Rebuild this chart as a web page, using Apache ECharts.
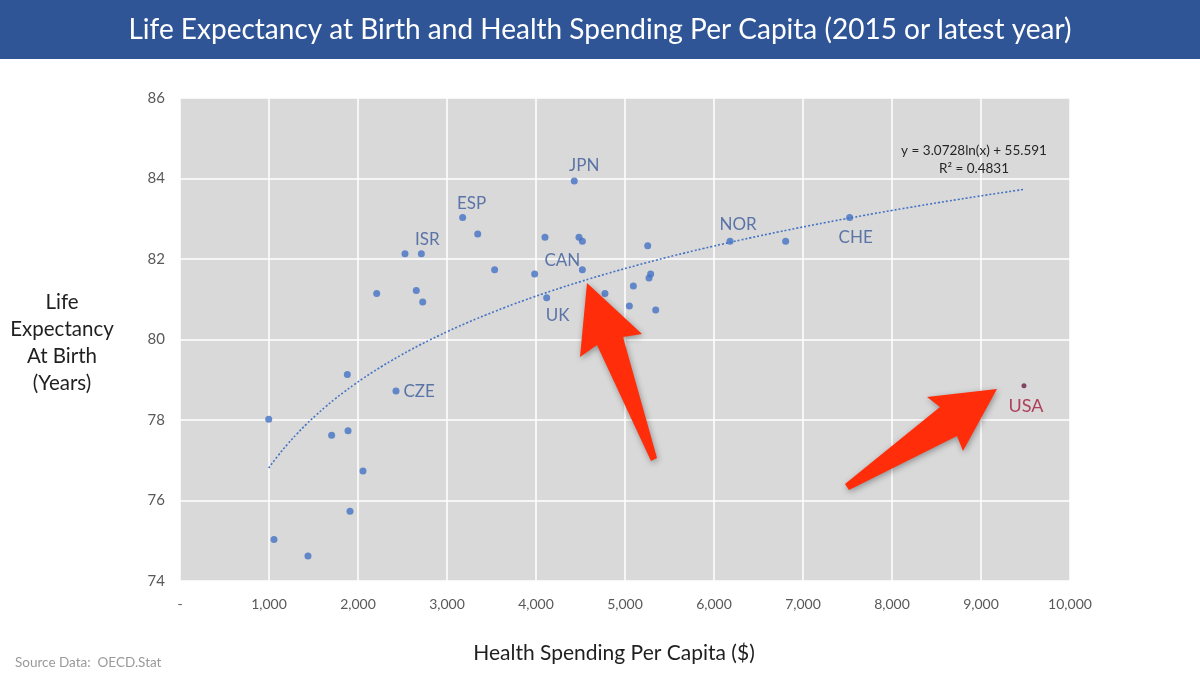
<!DOCTYPE html>
<html>
<head>
<meta charset="utf-8">
<script src="https://cdn.jsdelivr.net/npm/echarts@6/dist/echarts.min.js"></script>
<style>
  html, body { margin: 0; padding: 0; background: #fff; }
  #main { width: 1200px; height: 679px; }
</style>
</head>
<body>
<div id="main"></div>
<script>
// spending per capita ($) and life expectancy (years), one entry per country
var countries = ['', '', '', '', '', '', '', '', '', 'CZE',
    '', 'ISR', '', '', 'ESP', '', '', '', '', 'UK',
    'JPN', '', '', 'CAN', '', '', '', '', '', '',
    '', 'NOR', '', 'CHE'];
var spending = [997, 1056, 1438, 1704, 1880, 1888, 1910, 2056, 2210, 2427,
    2528, 2712, 2655, 2727, 3176, 3345, 3535, 3985, 4101, 4120,
    4430, 4483, 4521, 4521, 4775, 5049, 5094, 5255, 5270, 5288,
    5345, 6180, 6805, 7524];
var lifeExp = [78.02, 75.03, 74.62, 77.62, 79.13, 77.73, 75.73, 76.73, 81.14, 78.72,
    82.13, 82.13, 81.22, 80.93, 83.03, 82.62, 81.73, 81.63, 82.54, 81.04,
    83.94, 82.54, 82.44, 81.73, 81.14, 80.83, 81.33, 82.33, 81.53, 81.63,
    80.73, 82.44, 82.44, 83.03];
var usaPoint = ['USA', 9483, 78.85];

var xTicks = [0, 1000, 2000, 3000, 4000, 5000, 6000, 7000, 8000, 9000, 10000];
var yTicks = [74, 76, 78, 80, 82, 84, 86];

// log trendline shown in the chart: y = a ln(x) + b
var trendA = 3.0728;
var trendB = 55.591;
var trendText = ['y = 3.0728ln(x) + 55.591', 'R\u00b2 = 0.4831'];

// where each country label sits relative to its dot
var labelSpots = {
    CZE: { position: 'right', offset: [-2, 0] },
    ISR: { position: 'top', offset: [6, 4] },
    ESP: { position: 'top', offset: [9, 4] },
    JPN: { position: 'top', offset: [10, 3] },
    CAN: { position: 'top', offset: [-20, 9] },
    UK: { position: 'bottom', offset: [11, 0] },
    NOR: { position: 'top', offset: [8, 1] },
    CHE: { position: 'bottom', offset: [6, 2] }
};

var points = spending.map(function (x, i) {
    var item = { name: countries[i], value: [x, lifeExp[i]] };
    var spot = labelSpots[countries[i]];
    if (spot) {
        item.label = { show: true, position: spot.position, offset: spot.offset, formatter: '{b}' };
    }
    return item;
});

var allX = spending.concat([usaPoint[1]]);
var xLo = Math.min.apply(null, allX);
var xHi = Math.max.apply(null, allX);
var trend = [];
for (var k = 0; k <= 80; k++) {
    var tx = xLo + (xHi - xLo) * k / 80;
    trend.push([tx, trendA * Math.log(tx) + trendB]);
}

var font = 'Lato, "Open Sans", sans-serif';

var option = {
    animation: false,
    backgroundColor: '#ffffff',
    textStyle: { fontFamily: font },
    grid: {
        left: 180, right: 130, top: 98, bottom: 98,
        show: true, backgroundColor: '#d9d9d9', borderWidth: 0
    },
    xAxis: {
        type: 'value',
        min: xTicks[0], max: xTicks[xTicks.length - 1], interval: 1000,
        axisLine: { show: false },
        axisTick: { show: false },
        splitLine: { lineStyle: { color: '#ffffff', width: 1.5 } },
        axisLabel: {
            color: '#595959', fontSize: 14, margin: 16, fontFamily: font,
            formatter: function (v) { return v === 0 ? '-' : v.toLocaleString('en-US'); }
        },
        name: 'Health Spending Per Capita ($)',
        nameLocation: 'middle',
        nameGap: 62,
        nameTextStyle: { color: '#1f1f1f', fontSize: 21, fontFamily: font, padding: [0, 22, 0, 0] }
    },
    yAxis: {
        type: 'value',
        min: yTicks[0], max: yTicks[yTicks.length - 1], interval: 2,
        axisLine: { show: false },
        axisTick: { show: false },
        splitLine: { lineStyle: { color: '#ffffff', width: 1.5 } },
        axisLabel: { color: '#595959', fontSize: 15, margin: 15, fontFamily: font }
    },
    graphic: [
        { type: 'rect', left: 0, top: 0, shape: { width: 1200, height: 59 }, style: { fill: '#2f5597' }, z: 10 },
        {
            type: 'text', x: 600, y: 30, z: 11,
            style: { text: 'Life Expectancy at Birth and Health Spending Per Capita (2015 or latest year)', fill: '#ffffff', font: '28px ' + font, align: 'center', verticalAlign: 'middle' }
        },
        {
            type: 'text', x: 62, y: 343, z: 11,
            style: { text: 'Life\nExpectancy\nAt Birth\n(Years)', fill: '#1f1f1f', font: '20.5px ' + font, align: 'center', verticalAlign: 'middle', lineHeight: 27 }
        },
        {
            type: 'text', x: 15, y: 663, z: 11,
            style: { text: 'Source Data:  OECD.Stat', fill: '#9a9a9a', font: '13.5px ' + font, verticalAlign: 'middle' }
        },
        {
            type: 'text', x: 974, y: 160, z: 11,
            style: { text: trendText.join('\n'), fill: '#262626', font: '13.5px ' + font, align: 'center', verticalAlign: 'middle', lineHeight: 18 }
        },
        {
            type: 'polygon', z: 20,
            shape: { points: [[587, 283], [642, 334], [623, 337], [657, 458], [651, 461], [597, 345], [580, 357]] },
            style: { fill: '#ff2d0a', shadowBlur: 6, shadowColor: 'rgba(0,0,0,0.35)', shadowOffsetX: 1, shadowOffsetY: 2 }
        },
        {
            type: 'polygon', z: 20,
            shape: { points: [[997, 389], [963, 451], [957, 436], [849, 490], [845, 484], [940, 407], [927, 397]] },
            style: { fill: '#ff2d0a', shadowBlur: 6, shadowColor: 'rgba(0,0,0,0.35)', shadowOffsetX: 1, shadowOffsetY: 2 }
        }
    ],
    series: [
        {
            name: 'Trend', type: 'line', data: trend, showSymbol: false, symbol: 'none',
            smooth: true, silent: true, z: 2,
            lineStyle: { color: '#4472c4', width: 1.6, type: [2, 2] }
        },
        {
            name: 'OECD', type: 'scatter', data: points, symbolSize: 7, z: 3,
            itemStyle: { color: '#4472c4' },
            label: { color: '#3b5a9a', fontSize: 17, fontFamily: font, distance: 6 }
        },
        {
            name: 'USA', type: 'scatter', symbolSize: 5, z: 3,
            data: [{ name: usaPoint[0], value: [usaPoint[1], usaPoint[2]] }],
            itemStyle: { color: '#6b1f45' },
            label: { show: true, position: 'bottom', offset: [2, 4], formatter: '{b}', color: '#a3193a', fontSize: 18, fontFamily: font }
        }
    ]
};

var myChart = echarts.init(document.getElementById('main'));
myChart.setOption(option);
</script>
</body>
</html>
